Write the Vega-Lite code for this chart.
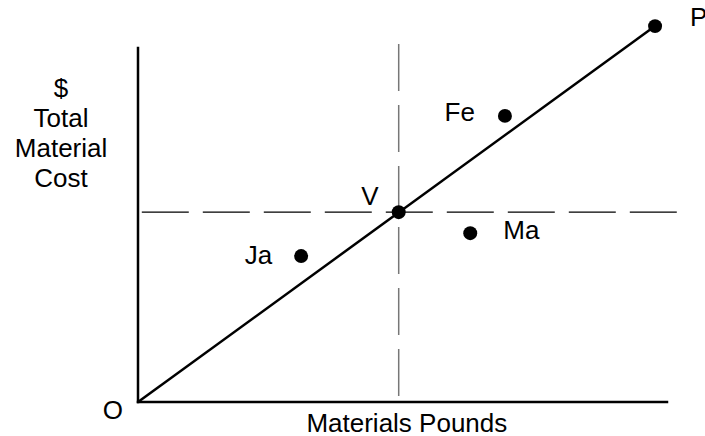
{
  "$schema": "https://vega.github.io/schema/vega-lite/v6.json",
  "width": 542,
  "height": 382,
  "autosize": {"type": "none"},
  "padding": {"left": 138, "top": 20, "right": 25, "bottom": 34},
  "background": "white",
  "config": {"view": {"stroke": null}, "text": {"font": "Liberation Sans", "fontSize": 26, "color": "black", "baseline": "middle"}},
  "datasets": {
    "axes": [{"x": 0, "y": 0, "x2": 0, "y2": 92.7}, {"x": 0, "y": 0, "x2": 97.6, "y2": 0}],
    "vguide": [{"x": 48.1, "y": 93.7, "x2": 48.1, "y2": 0}],
    "hguide": [{"x": 0.7, "y": 49.7, "x2": 99.8, "y2": 49.7}],
    "trend": [{"x": 0, "y": 0}, {"x": 95.4, "y": 98.4}],
    "points": [
      {"name": "P", "x": 95.4, "y": 98.4},
      {"name": "Fe", "x": 67.7, "y": 74.9},
      {"name": "V", "x": 48.1, "y": 49.7},
      {"name": "Ma", "x": 61.3, "y": 44.2},
      {"name": "Ja", "x": 30.1, "y": 38.2}
    ],
    "origin": [{"name": "O", "x": 0, "y": 0}],
    "titles": [
      {"label": "Materials Pounds", "x": 49.6, "y": 0},
      {"label": ["$", "Total", "Material", "Cost"], "x": -14.2, "y": 79.8}
    ]
  },
  "layer": [
    {
      "data": {"name": "axes"},
      "mark": {"type": "rule", "color": "black", "strokeWidth": 2.5, "strokeCap": "square"},
      "encoding": {
        "x": {"field": "x", "type": "quantitative", "scale": {"domain": [0, 100], "nice": false, "zero": false}, "axis": null},
        "y": {"field": "y", "type": "quantitative", "scale": {"domain": [0, 100], "nice": false, "zero": false}, "axis": null},
        "x2": {"field": "x2"},
        "y2": {"field": "y2"}
      }
    },
    {
      "data": {"name": "vguide"},
      "mark": {"type": "rule", "color": "#777777", "strokeWidth": 1.5, "strokeDash": [47, 14]},
      "encoding": {
        "x": {"field": "x", "type": "quantitative"},
        "y": {"field": "y", "type": "quantitative"},
        "x2": {"field": "x2"},
        "y2": {"field": "y2"}
      }
    },
    {
      "data": {"name": "hguide"},
      "mark": {"type": "rule", "color": "black", "strokeWidth": 1.3, "strokeDash": [47, 14]},
      "encoding": {
        "x": {"field": "x", "type": "quantitative"},
        "y": {"field": "y", "type": "quantitative"},
        "x2": {"field": "x2"},
        "y2": {"field": "y2"}
      }
    },
    {
      "data": {"name": "trend"},
      "mark": {"type": "line", "color": "black", "strokeWidth": 2.5},
      "encoding": {
        "x": {"field": "x", "type": "quantitative"},
        "y": {"field": "y", "type": "quantitative"}
      }
    },
    {
      "data": {"name": "points"},
      "mark": {"type": "circle", "color": "black", "opacity": 1, "size": 195},
      "encoding": {
        "x": {"field": "x", "type": "quantitative"},
        "y": {"field": "y", "type": "quantitative"}
      }
    },
    {
      "data": {"name": "points"},
      "transform": [{"filter": "datum.name === 'P'"}],
      "mark": {"type": "text", "align": "left", "dx": 35, "dy": -8},
      "encoding": {"x": {"field": "x", "type": "quantitative"}, "y": {"field": "y", "type": "quantitative"}, "text": {"field": "name"}}
    },
    {
      "data": {"name": "points"},
      "transform": [{"filter": "datum.name === 'Fe'"}],
      "mark": {"type": "text", "align": "right", "dx": -30, "dy": -3},
      "encoding": {"x": {"field": "x", "type": "quantitative"}, "y": {"field": "y", "type": "quantitative"}, "text": {"field": "name"}}
    },
    {
      "data": {"name": "points"},
      "transform": [{"filter": "datum.name === 'V'"}],
      "mark": {"type": "text", "align": "right", "dx": -20, "dy": -15},
      "encoding": {"x": {"field": "x", "type": "quantitative"}, "y": {"field": "y", "type": "quantitative"}, "text": {"field": "name"}}
    },
    {
      "data": {"name": "points"},
      "transform": [{"filter": "datum.name === 'Ma'"}],
      "mark": {"type": "text", "align": "left", "dx": 33, "dy": -2},
      "encoding": {"x": {"field": "x", "type": "quantitative"}, "y": {"field": "y", "type": "quantitative"}, "text": {"field": "name"}}
    },
    {
      "data": {"name": "points"},
      "transform": [{"filter": "datum.name === 'Ja'"}],
      "mark": {"type": "text", "align": "right", "dx": -29, "dy": 0},
      "encoding": {"x": {"field": "x", "type": "quantitative"}, "y": {"field": "y", "type": "quantitative"}, "text": {"field": "name"}}
    },
    {
      "data": {"name": "origin"},
      "mark": {"type": "text", "align": "right", "dx": -15, "dy": 9},
      "encoding": {"x": {"field": "x", "type": "quantitative"}, "y": {"field": "y", "type": "quantitative"}, "text": {"field": "name"}}
    },
    {
      "data": {"name": "titles"},
      "transform": [{"filter": "datum.x > 0"}],
      "mark": {"type": "text", "align": "center", "baseline": "alphabetic", "dy": 30},
      "encoding": {"x": {"field": "x", "type": "quantitative"}, "y": {"field": "y", "type": "quantitative"}, "text": {"field": "label"}}
    },
    {
      "data": {"name": "titles"},
      "transform": [{"filter": "datum.x < 0"}],
      "mark": {"type": "text", "align": "center", "baseline": "alphabetic", "lineHeight": 30},
      "encoding": {"x": {"field": "x", "type": "quantitative"}, "y": {"field": "y", "type": "quantitative"}, "text": {"field": "label"}}
    }
  ]
}
